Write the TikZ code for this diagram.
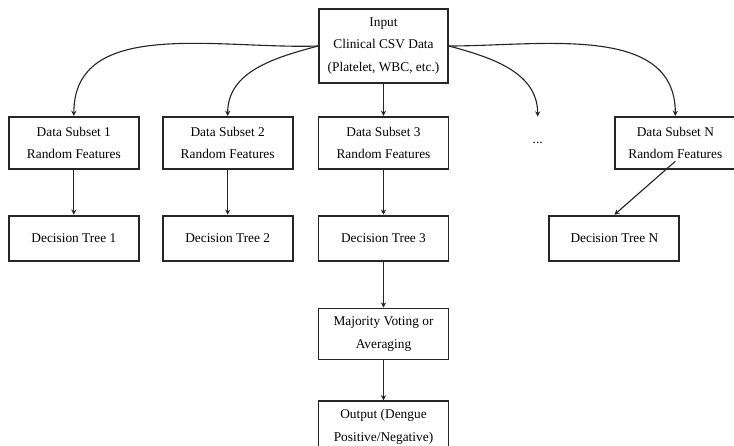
\documentclass[tikz,border=0pt]{standalone}
\usepackage{fontspec}
\setmainfont{Liberation Serif}
\usepackage{tikz}
\usetikzlibrary{arrows.meta, positioning, calc}

\begin{document}
\begin{tikzpicture}[
        node distance=0.8cm and 0.6cm,
        block/.style={rectangle, draw=black!85, line width=1.3pt, minimum width=3.25cm, minimum height=1.3cm, align=center, inner sep=2pt},
        treebox/.style={block, minimum height=1.125cm},
        arrow/.style={-{Stealth[length=1.3mm, width=1.3mm]}, line width=0.8pt, draw=black!85},
        font=\fontsize{9.5}{16}\selectfont
    ]
    \useasboundingbox (-9.5875,1.15) rectangle (8.7625,-10);

    % Central Column
    \node (input) [block, minimum width=3.225cm, minimum height=1.85cm] at (0,0) {Input\\Clinical CSV Data\\(Platelet, WBC, etc.)};
    \node (subset3) [block, below=0.8cm of input] {Data Subset 3\\Random Features};
    \node (tree3) [treebox, below=1.125cm of subset3] {Decision Tree 3};
    \node (voting) [block, minimum height=1.275cm, below=1.15cm of tree3] {Majority Voting or\\Averaging};
    \node (output) [block, minimum height=1.275cm, below=1cm of voting] {Output (Dengue\\Positive/Negative)};

    % Left & Right Columns
    \node (subset2) [block, left=0.6cm of subset3] {Data Subset 2\\Random Features};
    \node (subset1) [block, left=0.55cm of subset2] {Data Subset 1\\Random Features};
    \node (dots) [minimum width=1cm, minimum height=1.3cm, right=1.7cm of subset3] {...};
    \node (subsetN) [block, minimum width=3cm, right=4.125cm of subset3] {Data Subset N\\Random Features};

    \node (tree1) [treebox, below=1.125cm of subset1] {Decision Tree 1};
    \node (tree2) [treebox, below=1.125cm of subset2] {Decision Tree 2};
    \node (treeN) [treebox, below=1.125cm of subsetN.south west] {Decision Tree N};

    % Arrows - Input to subsets
    \draw [arrow] (input) -- (subset3);
    \draw [arrow] (input.west) to[out=182, in=90] (subset1.north);
    \draw [arrow] (input.west) to[out=195, in=90] (subset2.north);
    \draw [arrow] (input.east) to[out=-15, in=90] (dots.north);
    \draw [arrow] (input.east) to[out=0, in=90] (subsetN.north);

    % Arrows - Subsets to trees
    \draw [arrow] (subset1) -- (tree1);
    \draw [arrow] (subset2) -- (tree2);
    \draw [arrow] (subset3) -- (tree3);
    \draw [arrow] ([yshift=6pt]subsetN.south) -- (treeN.north);

    % Arrows - Aggregation
    \draw [arrow] (tree3) -- (voting);
    \draw [arrow] (voting) -- (output);

\end{tikzpicture}
\end{document}
